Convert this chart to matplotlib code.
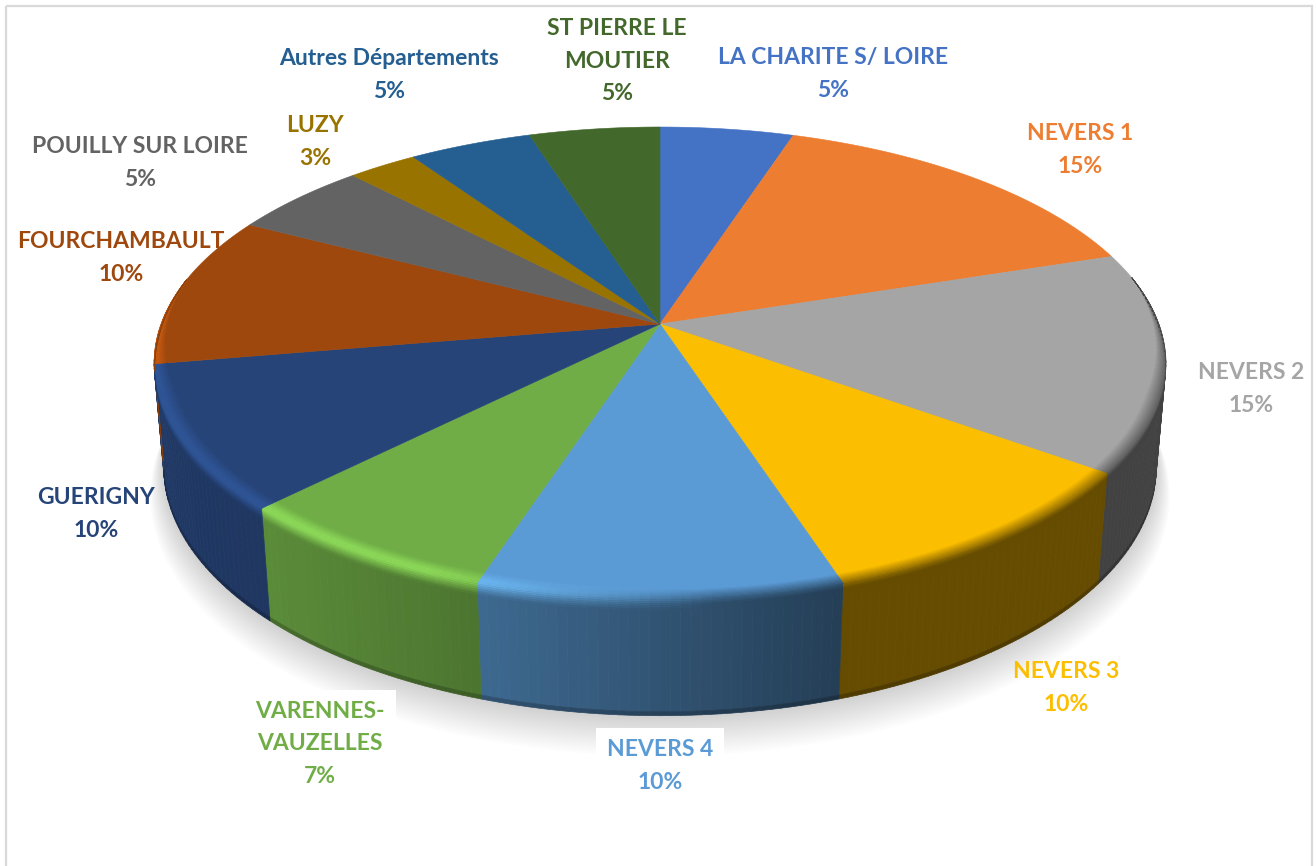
import numpy as np
import matplotlib
matplotlib.use("Agg")
import matplotlib.pyplot as plt
from matplotlib.collections import PolyCollection
from matplotlib.colors import to_rgb
from matplotlib.patches import Polygon, Rectangle

categories = ["LA CHARITE S/ LOIRE", "NEVERS 1", "NEVERS 2", "NEVERS 3", "NEVERS 4",
              "VARENNES-\nVAUZELLES", "GUERIGNY", "FOURCHAMBAULT", "POUILLY SUR LOIRE",
              "LUZY", "Autres Départements", "ST PIERRE LE\nMOUTIER"]
values = [5, 15, 15, 10, 10, 7.45, 9.85, 10.4, 5.2, 2.6, 4.6, 4.9]
colors = ["#4472C4", "#ED7D31", "#A5A5A5", "#FCBE00", "#5B9BD5", "#70AD47",
          "#264478", "#9E480E", "#636363", "#997300", "#255E91", "#43682B"]
label_xy = [(833, 74), (1080, 150), (1251, 389), (1066, 688), (660, 766), (320, 744),
            (96, 514), (121, 258), (140, 163), (315, 142), (389, 75), (617, 61)]
boxed = {"NEVERS 4", "VARENNES-\nVAUZELLES"}

CX, CY, A, B, H, P, Q = 660, 324, 499, 229.5, 105, 0.165, 0.019


def proj(theta, r=1.0, h=0.0):
    u, v = r * np.sin(theta), r * np.cos(theta)
    w = 1 + P * v + Q * h
    return CX + A * u / w, CY + (-B * v + H * h) / w


def wall_factor(theta):
    return np.interp(np.sin(theta), [-1, -0.68, -0.31, 0.31, 1], [0.85, 0.80, 0.68, 0.40, 0.40])


fig = plt.figure(figsize=(13.16, 8.66), dpi=100)
ax = fig.add_axes([0, 0, 1, 1])
ax.set_xlim(0, 1316)
ax.set_ylim(866, 0)
ax.axis("off")
ax.add_patch(Rectangle((6, 6), 1306, 900, fill=False, ec="#d9d9d9", lw=1.6, zorder=0))

# soft shadow beneath the pie
circle = np.radians(np.arange(0, 361, 2))
for k in range(24):
    f = k / 23
    x, y = proj(circle, 1 + 0.032 * (1 - f), 1 + 0.26 * (1 - f))
    ax.add_patch(Polygon(np.c_[x, y], fc="black", ec="none", alpha=0.0085, zorder=1))

edges = np.cumsum([0] + values) / sum(values) * 2 * np.pi
wall_polys, wall_cols, rim_polys, rim_cols = [], [], [], []
steps = np.linspace(0, 1, 17)

for i, col in enumerate(colors):
    top = np.array(to_rgb(col))
    n = max(int(np.degrees(edges[i + 1] - edges[i])), 2)
    t = np.linspace(edges[i], edges[i + 1], n + 1)
    x, y = proj(t)
    ax.add_patch(Polygon(np.r_[[[CX, CY]], np.c_[x, y]], fc=top, ec=top, lw=0.4, zorder=3))
    for a, b in zip(t[:-1], t[1:]):
        m = (a + b) / 2
        wall = top * wall_factor(m)
        if np.cos(m) < -P + 0.02:
            xa, ya = proj(a)
            xb, yb = proj(b)
            xc, yc = proj(b, 1, 0.965)
            xd, yd = proj(a, 1, 0.965)
            wall_polys.append([(xa, ya), (xb, yb), (xc, yc), (xd, yd)])
            wall_cols.append(wall)
            xe, ye = proj(b, 1, 1)
            xf, yf = proj(a, 1, 1)
            wall_polys.append([(xd, yd), (xc, yc), (xe, ye), (xf, yf)])
            wall_cols.append(wall * 0.78)
        width = np.clip((0.2 - np.cos(m)) / 0.5, 0, 1)
        if width <= 0:
            continue
        light = np.clip((-np.sin(m) + 0.1) / 0.5, 0, 1)
        peak = np.minimum(top * 1.25, 1)

        def band(s):
            if s < 0.6:
                return 1 - 0.035 * width * (1 - s / 0.6), 0.0
            return 1.0, 0.10 * width * (s - 0.6) / 0.4

        for s0, s1 in zip(steps[:-1], steps[1:]):
            r0, h0 = band(s0)
            r1, h1 = band(s1)
            sm = (s0 + s1) / 2
            lit = np.array([np.interp(sm, [0, 0.42, 0.62, 1], [top[c], peak[c], peak[c], wall[c]]) for c in range(3)])
            dim = top + (wall - top) * np.clip((sm - 0.1) / 0.7, 0, 1)
            rim_polys.append([proj(a, r0, h0), proj(b, r0, h0), proj(b, r1, h1), proj(a, r1, h1)])
            rim_cols.append(dim + (lit - dim) * light)

ax.add_collection(PolyCollection(wall_polys, facecolors=wall_cols, edgecolors=wall_cols, linewidths=0.5, zorder=2))
ax.add_collection(PolyCollection(rim_polys, facecolors=rim_cols, edgecolors=rim_cols, linewidths=0.3, zorder=4))

for name, val, col, (lx, ly) in zip(categories, values, colors, label_xy):
    box = dict(fc="white", ec="none", pad=8) if name in boxed else None
    ax.text(lx, ly, f"{name}\n{val:.0f}%", color=col, ha="center", va="center", fontsize=16.5,
            family="Lato", fontweight="bold", linespacing=1.68, bbox=box, zorder=5)

fig.savefig("out.png", dpi=100)
